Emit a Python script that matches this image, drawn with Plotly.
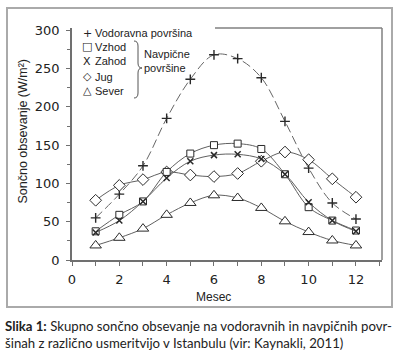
import plotly.graph_objects as go

# ---- data ----
months = [1, 2, 3, 4, 5, 6, 7, 8, 9, 10, 11, 12]
vodoravna = [55, 86, 123, 185, 236, 268, 263, 238, 181, 120, 74.5, 53.5]
vzhod = [37.5, 59, 76.5, 115, 139, 150, 152, 145, 112, 69, 51.5, 38.5]
zahod = [36, 51.5, 76.5, 107, 129, 137, 138, 132, 112, 75.5, 51.5, 37.5]
jug = [78, 97.5, 105, 115, 111, 109, 113, 129, 141, 131, 106, 82]
sever = [19, 29, 41, 59, 74.5, 84.5, 81, 68, 50.5, 36.5, 25.5, 19]

x_tick_vals = [0, 2, 4, 6, 8, 10, 12]
y_tick_vals = [0, 50, 100, 150, 200, 250, 300]

legend_labels = ["Vodoravna površina", "Vzhod", "Zahod", "Jug", "Sever"]
legend_symbols = ["+", "□", "X", "◇", "△"]
brace_label = "Navpične<br>površine"
x_title = "Mesec"
y_title = "Sončno obsevanje (W/m²)"
caption = ("<b>Slika 1:</b> Skupno sončno obsevanje na vodoravnih in navpičnih povr-<br>"
           "šinah z različno usmeritvijo v Istanbulu (vir: Kaynakli, 2011)")

# ---- layout geometry ----
W_TOT, H_TOT = 400, 359
L, R, T, B = 72, 18, 28, 99
PW, PH = W_TOT - L - R, H_TOT - T - B


def px(x):
    return (x - L) / PW


def py(y):
    return (H_TOT - B - y) / PH


LINE_C = "#606060"
MARK_C = "#2a2a2a"
SANS = "Liberation Sans, Arial, sans-serif"

fig = go.Figure()

fig.add_trace(go.Scatter(
    x=months, y=vodoravna, mode="lines+markers", name=legend_labels[0],
    line=dict(color="#666666", width=1, shape="spline", dash="9px,4px"),
    marker=dict(symbol="cross-thin", size=7, line=dict(color=MARK_C, width=1.4)),
    showlegend=False))
fig.add_trace(go.Scatter(
    x=months, y=jug, mode="lines+markers", name=legend_labels[3],
    line=dict(color=LINE_C, width=1, shape="spline"),
    marker=dict(symbol="diamond", size=9, color="white", line=dict(color=MARK_C, width=1)),
    showlegend=False))
fig.add_trace(go.Scatter(
    x=months, y=sever, mode="lines+markers", name=legend_labels[4],
    line=dict(color=LINE_C, width=1, shape="spline"),
    marker=dict(symbol="triangle-up", size=10, color="white", line=dict(color=MARK_C, width=1)),
    showlegend=False))
fig.add_trace(go.Scatter(
    x=months, y=vzhod, mode="lines+markers", name=legend_labels[1],
    line=dict(color=LINE_C, width=1, shape="spline"),
    marker=dict(symbol="square", size=7, color="white", line=dict(color=MARK_C, width=1)),
    showlegend=False))
fig.add_trace(go.Scatter(
    x=months, y=zahod, mode="lines+markers", name=legend_labels[2],
    line=dict(color=LINE_C, width=1, shape="spline"),
    marker=dict(symbol="x-thin", size=6, line=dict(color=MARK_C, width=1.5)),
    showlegend=False))

annotations = []
# legend (text based)
leg_y = [33, 46.5, 61.5, 76.5, 90.5]
for sym, lab, yy in zip(legend_symbols, legend_labels, leg_y):
    annotations.append(dict(xref="paper", yref="paper", x=px(87), y=py(yy),
                            text=sym, showarrow=False, xanchor="center", yanchor="middle",
                            font=dict(family="DejaVu Sans", size=11, color="#222")))
    annotations.append(dict(xref="paper", yref="paper", x=px(92.5), y=py(yy),
                            text=lab, showarrow=False, xanchor="left", yanchor="middle",
                            font=dict(family=SANS, size=11, color="#222")))
annotations.append(dict(xref="paper", yref="paper", x=px(142), y=py(61.5),
                        text=brace_label, showarrow=False, xanchor="left", yanchor="middle",
                        align="left", font=dict(family=SANS, size=11, color="#222")))
# axis titles
annotations.append(dict(xref="x", yref="paper", x=6, y=py(297),
                        text=x_title, showarrow=False, xanchor="center", yanchor="middle",
                        font=dict(family=SANS, size=12, color="#222")))
annotations.append(dict(xref="paper", yref="paper", x=px(22), y=py(131.5),
                        text=y_title, showarrow=False, textangle=-90,
                        xanchor="center", yanchor="middle",
                        font=dict(family=SANS, size=12.5, color="#222")))
# caption
annotations.append(dict(xref="paper", yref="paper", x=px(3), y=py(334),
                        text=caption, showarrow=False, xanchor="left", yanchor="middle",
                        align="left",
                        font=dict(family="Lato, Open Sans, sans-serif", size=13.2, color="#222")))

shapes = [
    # outer border
    dict(type="rect", xref="paper", yref="paper", x0=px(7), x1=px(392), y0=py(307), y1=py(8),
         line=dict(color="#aaaaaa", width=2), layer="below"),
    # partial frame: top + right
    dict(type="line", xref="paper", yref="paper", x0=px(215), x1=1, y0=1, y1=1,
         line=dict(color="#808080", width=1.5)),
    dict(type="line", xref="paper", yref="paper", x0=1, x1=1, y0=0, y1=1,
         line=dict(color="#808080", width=1.5)),
    # brace
    dict(type="path", xref="paper", yref="paper",
         path=(f"M {px(134)},{py(41)} Q {px(138)},{py(41)} {px(138)},{py(46)} "
               f"L {px(138)},{py(63)} Q {px(138)},{py(68)} {px(142)},{py(68)} "
               f"Q {px(138)},{py(68)} {px(138)},{py(73)} L {px(138)},{py(93)} "
               f"Q {px(138)},{py(98)} {px(134)},{py(98)}"),
         line=dict(color="#555", width=1)),
]

fig.update_layout(
    width=W_TOT, height=H_TOT,
    margin=dict(l=L, r=R, t=T, b=B, pad=0),
    paper_bgcolor="white", plot_bgcolor="white",
    showlegend=False,
    annotations=annotations, shapes=shapes,
    xaxis=dict(range=[0, 13.1], tickvals=x_tick_vals, showgrid=False, zeroline=False,
               showline=True, linecolor="#707070", linewidth=1.5,
               ticks="outside", ticklen=4, tickcolor="#707070", tickwidth=1,
               minor=dict(dtick=1, ticks="outside", ticklen=4, tickcolor="#707070"),
               ticklabelstandoff=3,
               tickfont=dict(family="DejaVu Sans", size=13, color="#222")),
    yaxis=dict(range=[0, 303], tickvals=y_tick_vals, showgrid=False, zeroline=False,
               showline=True, linecolor="#707070", linewidth=1.5,
               ticks="outside", ticklen=4, tickcolor="#707070", tickwidth=1,
               minor=dict(dtick=25, ticks="outside", ticklen=3, tickcolor="#707070"),
               ticklabelstandoff=4,
               tickfont=dict(family="DejaVu Sans", size=13, color="#222")),
)

fig.write_html("out.html", config={"displayModeBar": False},
               post_script="document.body.style.margin='0';document.body.style.overflow='hidden';")
